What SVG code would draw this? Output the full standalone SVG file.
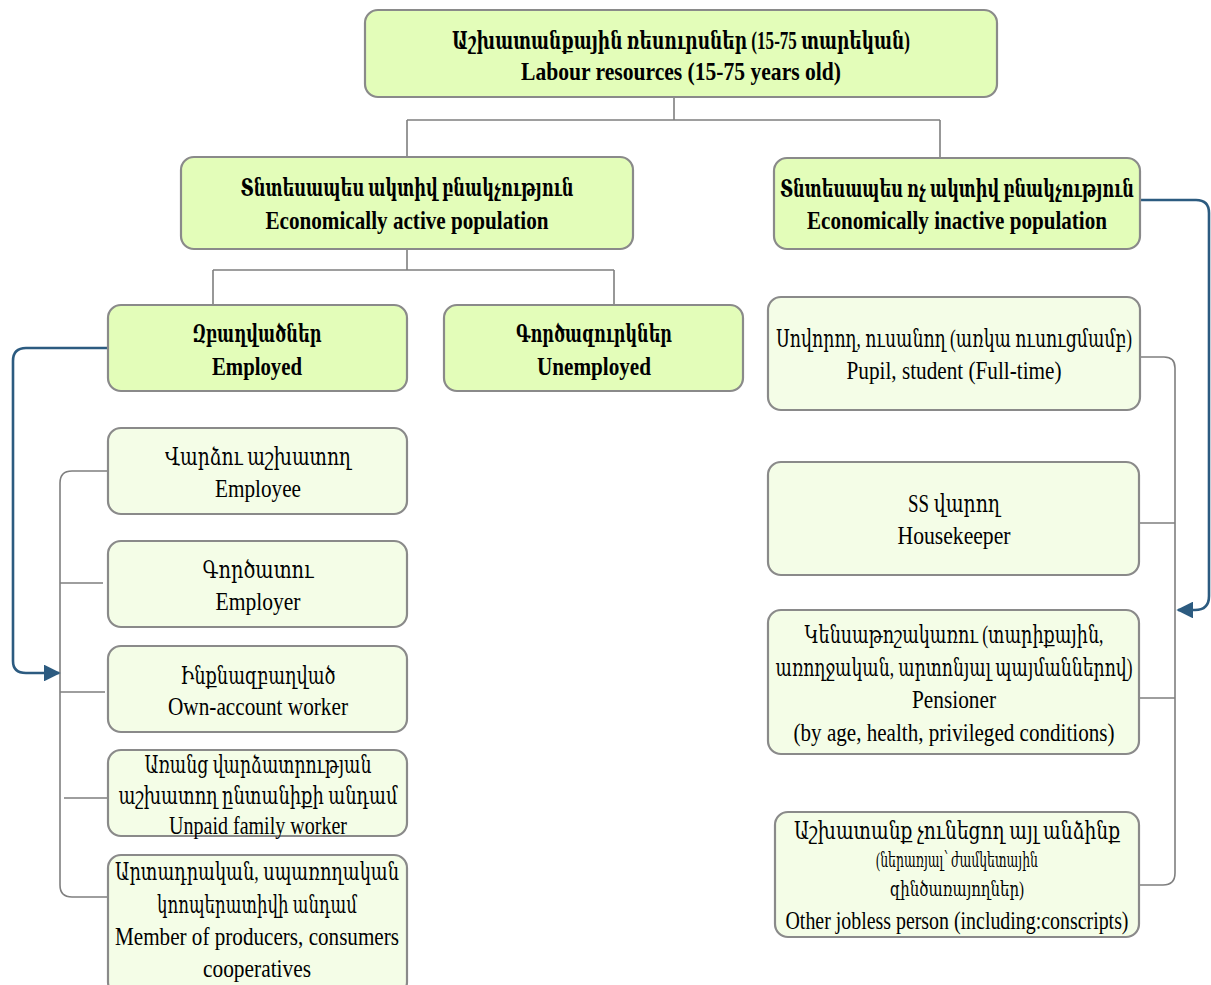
<svg xmlns="http://www.w3.org/2000/svg" width="1211" height="985" viewBox="0 0 1211 985">
<defs>
<style>
.main{fill:#e3fdb9;stroke:#8a8a8a;stroke-width:2.2}
.sub{fill:#f4fde7;stroke:#8a8a8a;stroke-width:2.2}
text{font-family:"Liberation Serif","DejaVu Serif","Noto Serif",serif;font-size:25px;fill:#000;text-anchor:middle;dominant-baseline:central}
.b{font-weight:bold}
.s{font-size:21px}
.g{fill:none;stroke:#7f7f7f;stroke-width:1.6}
.bl{fill:none;stroke:#2c5b80;stroke-width:2.6}
</style>
<marker id="arrB" viewBox="0 0 10 10" refX="9" refY="5" markerWidth="6.5" markerHeight="6.5" orient="auto">
<path d="M0,0 L10,5 L0,10 z" fill="#2c5b80"/>
</marker>
</defs>
<g id="connectors">
<path class="g" d="M674,97 V120 M407,120 H940 M407,120 V157 M940,120 V158"/>
<path class="g" d="M407,249 V270 M213,270 H614 M213,270 V305 M614,270 V305"/>
<path class="g" d="M108,471 H72 Q60,471 60,483 V885 Q60,897 72,897 H108"/>
<path class="g" d="M60,583 H103 M60,692 H105 M64,798 H108"/>
<path class="g" d="M1140,357 H1164 Q1175,357 1175,368 V873 Q1175,885 1163,885 H1139"/>
<path class="g" d="M1139,523 H1175 M1139,698 H1175"/>
<path class="bl" marker-end="url(#arrB)" d="M108,348 H26 Q13,348 13,361 V661 Q13,673 26,673 H59"/>
<path class="bl" marker-end="url(#arrB)" d="M1140,200 H1196 Q1209,200 1209,213 V596 Q1209,610 1195,610 H1178"/>
</g>
<g id="n-top">
<rect class="main" x="365" y="10" width="632" height="87" rx="13"/>
<text class="b" x="681" y="40" textLength="458" lengthAdjust="spacingAndGlyphs">Աշխատանքային ռեսուրսներ (15-75 տարեկան)</text>
<text class="b" x="681" y="71" textLength="320" lengthAdjust="spacingAndGlyphs">Labour resources (15-75  years old)</text>
</g>
<g id="n-active">
<rect class="main" x="181" y="157" width="452" height="92" rx="13"/>
<text class="b" x="407" y="187" textLength="333" lengthAdjust="spacingAndGlyphs">Տնտեսապես ակտիվ բնակչություն</text>
<text class="b" x="407" y="220" textLength="283" lengthAdjust="spacingAndGlyphs">Economically active population</text>
</g>
<g id="n-inactive">
<rect class="main" x="774" y="158" width="366" height="91" rx="13"/>
<text class="b" x="957" y="188" textLength="354" lengthAdjust="spacingAndGlyphs">Տնտեսապես ոչ ակտիվ բնակչություն</text>
<text class="b" x="957" y="220" textLength="300" lengthAdjust="spacingAndGlyphs">Economically inactive population</text>
</g>
<g id="n-employed">
<rect class="main" x="108" y="305" width="299" height="86" rx="13"/>
<text class="b" x="257" y="333" textLength="129" lengthAdjust="spacingAndGlyphs">Զբաղվածներ</text>
<text class="b" x="257" y="366" textLength="90" lengthAdjust="spacingAndGlyphs">Employed</text>
</g>
<g id="n-unemployed">
<rect class="main" x="444" y="305" width="299" height="86" rx="13"/>
<text class="b" x="594" y="333" textLength="156" lengthAdjust="spacingAndGlyphs">Գործազուրկներ</text>
<text class="b" x="594" y="366" textLength="114" lengthAdjust="spacingAndGlyphs">Unemployed</text>
</g>
<g id="n-employee">
<rect class="sub" x="108" y="428" width="299" height="86" rx="13"/>
<text x="258" y="456" textLength="186" lengthAdjust="spacingAndGlyphs">Վարձու աշխատող</text>
<text x="258" y="488" textLength="86" lengthAdjust="spacingAndGlyphs">Employee</text>
</g>
<g id="n-employer">
<rect class="sub" x="108" y="541" width="299" height="86" rx="13"/>
<text x="258" y="569" textLength="111" lengthAdjust="spacingAndGlyphs">Գործատու</text>
<text x="258" y="601" textLength="85" lengthAdjust="spacingAndGlyphs">Employer</text>
</g>
<g id="n-own">
<rect class="sub" x="108" y="646" width="299" height="86" rx="13"/>
<text x="258" y="675" textLength="155" lengthAdjust="spacingAndGlyphs">Ինքնազբաղված</text>
<text x="258" y="706" textLength="180" lengthAdjust="spacingAndGlyphs">Own-account worker</text>
</g>
<g id="n-unpaid">
<rect class="sub" x="108" y="750" width="299" height="86" rx="13"/>
<text x="258" y="764" textLength="227" lengthAdjust="spacingAndGlyphs">Առանց վարձատրության</text>
<text x="258" y="795" textLength="279" lengthAdjust="spacingAndGlyphs">աշխատող ընտանիքի անդամ</text>
<text x="258" y="825" textLength="178" lengthAdjust="spacingAndGlyphs">Unpaid family worker</text>
</g>
<g id="n-member">
<rect class="sub" x="108" y="855" width="299" height="140" rx="13"/>
<text x="257" y="871" textLength="284" lengthAdjust="spacingAndGlyphs">Արտադրական, սպառողական</text>
<text x="257" y="904" textLength="200" lengthAdjust="spacingAndGlyphs">կոոպերատիվի անդամ</text>
<text x="257" y="936" textLength="284" lengthAdjust="spacingAndGlyphs">Member of producers, consumers</text>
<text x="257" y="968" textLength="108" lengthAdjust="spacingAndGlyphs">cooperatives</text>
</g>
<g id="n-pupil">
<rect class="sub" x="768" y="297" width="372" height="113" rx="13"/>
<text x="954" y="338" textLength="356" lengthAdjust="spacingAndGlyphs">Սովորող, ուսանող (առկա ուսուցմամբ)</text>
<text x="954" y="370" textLength="215" lengthAdjust="spacingAndGlyphs">Pupil, student (Full-time)</text>
</g>
<g id="n-housekeeper">
<rect class="sub" x="768" y="462" width="371" height="113" rx="13"/>
<text x="954" y="503" textLength="92" lengthAdjust="spacingAndGlyphs">SS վարող</text>
<text x="954" y="535" textLength="113" lengthAdjust="spacingAndGlyphs">Housekeeper</text>
</g>
<g id="n-pensioner">
<rect class="sub" x="768" y="610" width="371" height="144" rx="13"/>
<text x="954" y="634" textLength="299" lengthAdjust="spacingAndGlyphs">Կենսաթոշակառու (տարիքային,</text>
<text x="954" y="667" textLength="357" lengthAdjust="spacingAndGlyphs">առողջական, արտոնյալ պայմաններով)</text>
<text x="954" y="699" textLength="84" lengthAdjust="spacingAndGlyphs">Pensioner</text>
<text x="954" y="732" textLength="321" lengthAdjust="spacingAndGlyphs">(by age, health, privileged conditions)</text>
</g>
<g id="n-other">
<rect class="sub" x="775" y="812" width="364" height="125" rx="13"/>
<text x="957" y="830" textLength="326" lengthAdjust="spacingAndGlyphs">Աշխատանք չունեցող այլ անձինք</text>
<text class="s" x="957" y="860" textLength="162" lengthAdjust="spacingAndGlyphs">(ներառյալ՝ ժամկետային</text>
<text class="s" x="957" y="889" textLength="134" lengthAdjust="spacingAndGlyphs">զինծառայողներ)</text>
<text x="957" y="920" textLength="343" lengthAdjust="spacingAndGlyphs">Other jobless person (including:conscripts)</text>
</g>
</svg>
